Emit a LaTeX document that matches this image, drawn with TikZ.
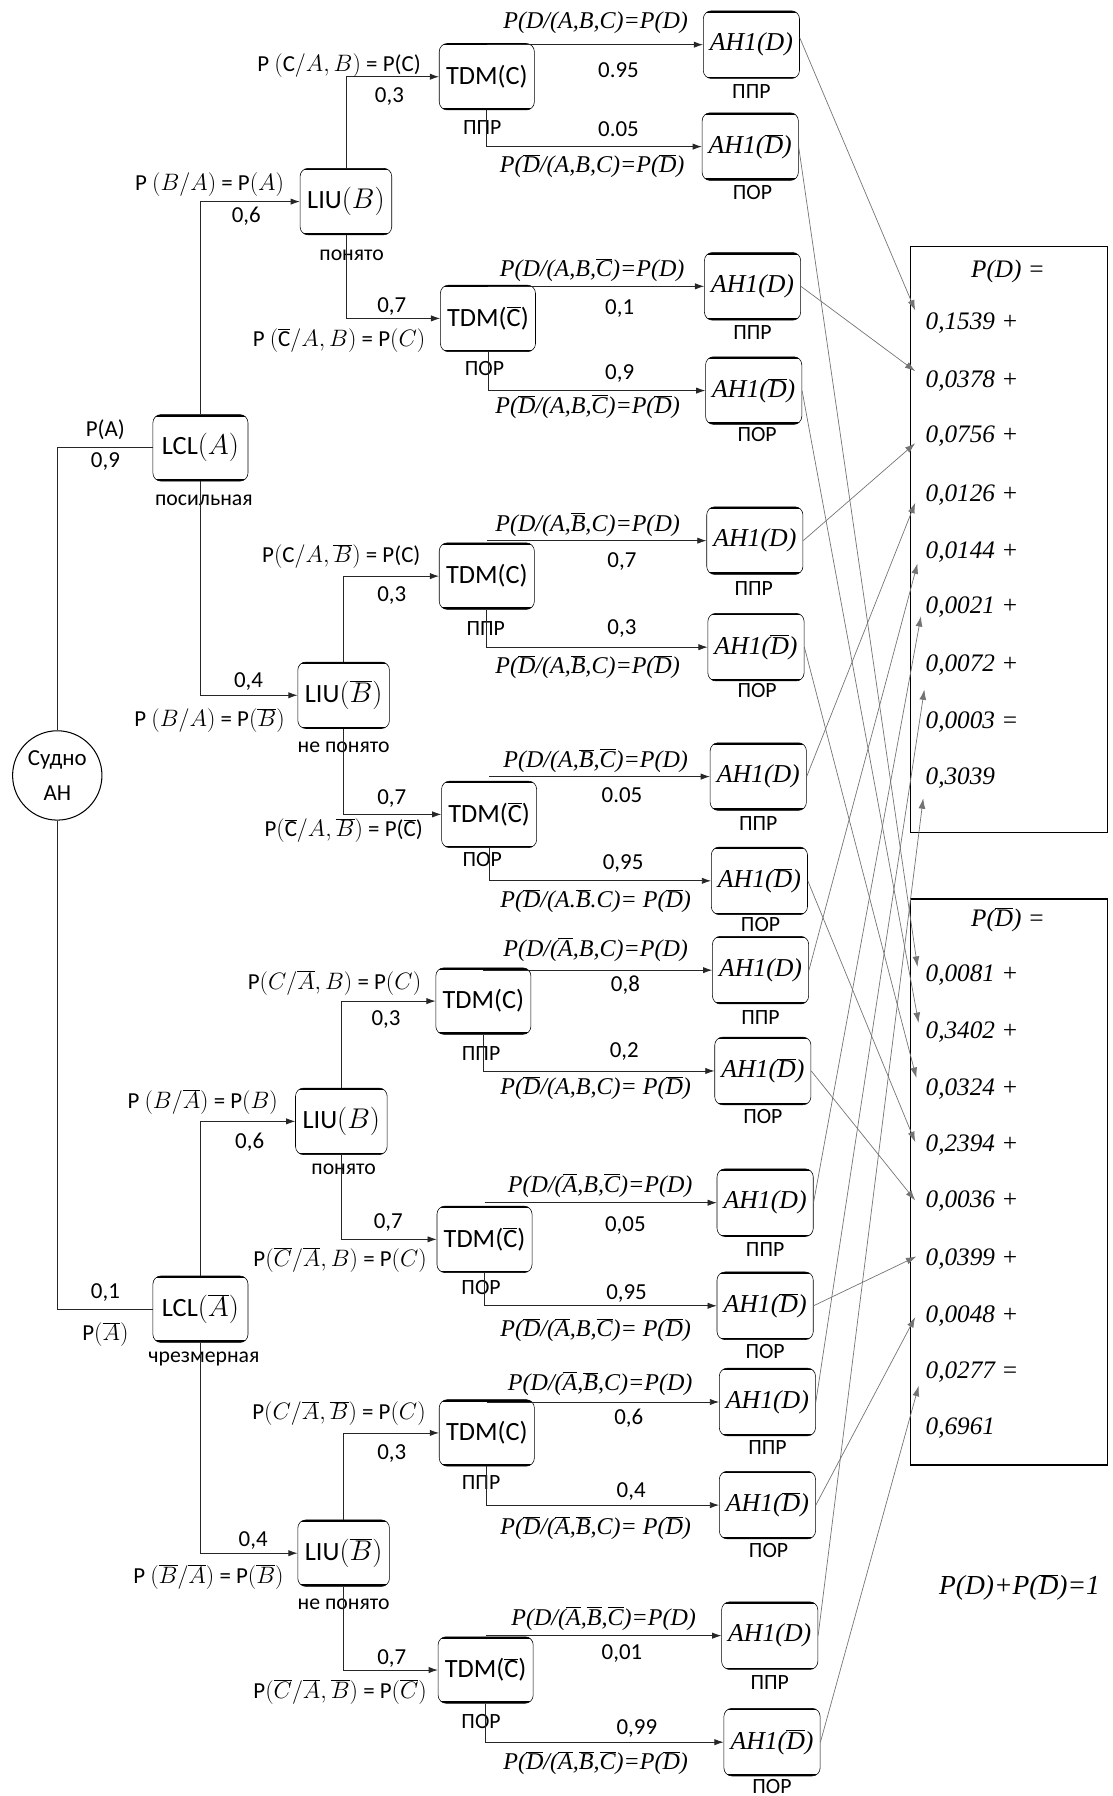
\documentclass[tikz,border=0pt]{standalone}
\usepackage{fontspec}
\setmainfont{Carlito}
\newfontfamily\tms{Liberation Serif}
\usetikzlibrary{arrows.meta}
\newcommand\ob[1]{\ensuremath{\overline{\mbox{#1}}}}
\newcommand\fsz[1]{\fontsize{#1}{#1}\selectfont}
\tikzset{
  bx/.style={draw=black, line width=0.5pt, rounded corners=7pt, minimum width=83pt, minimum height=58pt, inner sep=0pt, font=\fsz{23},
    path picture={\draw[line width=3.4pt] (path picture bounding box.north west) -- (path picture bounding box.north east) (path picture bounding box.south west) -- (path picture bounding box.south east);}},
  lx/.style={bx, minimum width=80pt},
  hx/.style={bx, minimum width=84pt, minimum height=59pt, font=\fsz{22.5}\tms\itshape},
  tl/.style={inner sep=0pt, font=\fsz{20}},
  sl/.style={inner sep=0pt, font=\fsz{19}},
  dl/.style={inner sep=0pt, font=\fsz{21}\tms\itshape},
  vl/.style={inner sep=0pt, anchor=west, font=\fsz{22}\tms\itshape},
  tr/.style={line width=0.7pt, draw=black!85},
  ar/.style={tr, -{Latex[length=8pt,width=5.5pt]}},
  cn/.style={line width=0.6pt, draw=black!55, -{Latex[length=9pt,width=6pt]}},
}
\begin{document}
\begin{tikzpicture}[x=1pt,y=-1pt]
\useasboundingbox (0,0) rectangle (971,1568);
\fill[white] (0,0) rectangle (971,1568);

% ---------- root
\node[draw, circle, line width=0.9pt, minimum size=78pt, inner sep=0pt, align=center, font=\fontsize{20}{30}\selectfont] (root) at (50,677) {Судно\\АН};

% ---------- level 1
\node[bx] (lclA) at (175,391) {LCL$(A)$};
\node[bx] (lclN) at (175,1143) {LCL$(\overline{A})$};
\draw[tr] (root.north) |- (lclA.west);
\draw[tr] (root.south) |- (lclN.west);
\node[tl] at (92,375) {P(A)};
\node[tl] at (92,403) {0,9};
\node[tl] at (92,1128) {0,1};
\node[tl] at (92,1165) {P$(\overline{A})$};
\node[sl] at (178,437) {посильная};
\node[sl] at (178,1186) {чрезмерная};

% ---------- level 2
\node[lx] (b1) at (302,176) {LIU$(B)$};
\node[lx] (b2) at (300,607) {LIU$(\overline{B})$};
\node[lx] (b3) at (298,979) {LIU$(B)$};
\node[lx] (b4) at (300,1356) {LIU$(\overline{B})$};
\draw[ar] (lclA.north) |- (b1.west);
\draw[ar] (lclA.south) |- (b2.west);
\draw[ar] (lclN.north) |- (b3.west);
\draw[ar] (lclN.south) |- (b4.west);
\node[tl] at (183,161) {P $\bigl(B/A\bigr)$ = P$(A)$};
\node[tl] at (215,189) {0,6};
\node[tl] at (217,595) {0,4};
\node[tl] at (183,629) {P $\bigl(B/A\bigr)$ = P$(\overline{B})$};
\node[tl] at (177,962) {P $\Bigl(B/\overline{A}\Bigr)$ = P$(B)$};
\node[tl] at (218,997) {0,6};
\node[tl] at (221,1345) {0,4};
\node[tl] at (182,1377) {P $\Bigl(\overline{B}/\overline{A}\Bigr)$ = P$(\overline{B})$};
\node[sl] at (307,223) {понято};
\node[sl] at (300,652) {не понято};
\node[sl] at (300,1021) {понято};
\node[sl] at (300,1401) {не понято};

% ---------- level 3
\node[bx] (t1) at (425,67) {TDM(C)};
\node[bx] (t2) at (426,278) {TDM(\ob{C})};
\node[bx] (t3) at (425,503) {TDM(C)};
\node[bx] (t4) at (427,711) {TDM(\ob{C})};
\node[bx] (t5) at (422,874) {TDM(C)};
\node[bx] (t6) at (423,1082) {TDM(\ob{C})};
\node[bx] (t7) at (425,1251) {TDM(C)};
\node[bx] (t8) at (424,1458) {TDM(\ob{C})};
\draw[ar] (b1.north) |- (t1.west);
\draw[ar] (b1.south) |- (t2.west);
\draw[ar] (b2.north) |- (t3.west);
\draw[ar] (b2.south) |- (t4.west);
\draw[ar] (b3.north) |- (t5.west);
\draw[ar] (b3.south) |- (t6.west);
\draw[ar] (b4.north) |- (t7.west);
\draw[ar] (b4.south) |- (t8.west);
\node[tl] at (296,57) {P $\Bigl(\mbox{C}/A,B\Bigr)$ = P(C)};
\node[tl] at (340,84) {0,3};
\node[tl] at (342,268) {0,7};
\node[tl] at (296,297) {P $\Bigl(\overline{\mbox{C}}/A,B\Bigr)$ = P$(C)$};
\node[tl] at (298,486) {P$\Bigl(\mbox{C}/A,\overline{B}\Bigr)$ = P(C)};
\node[tl] at (342,520) {0,3};
\node[tl] at (342,697) {0,7};
\node[tl] at (300,725) {P$\Bigl(\overline{\mbox{C}}/A,\overline{B}\Bigr)$ = P(\ob{C})};
\node[tl] at (292,858) {P$\Bigl(C/\overline{A},B\Bigr)$ = P$(C)$};
\node[tl] at (337,890) {0,3};
\node[tl] at (339,1067) {0,7};
\node[tl] at (297,1100) {P$\Bigl(\overline{C}/\overline{A},B\Bigr)$ = P$(C)$};
\node[tl] at (296,1234) {P$\Bigl(C/\overline{A},\overline{B}\Bigr)$ = P$(C)$};
\node[tl] at (342,1269) {0,3};
\node[tl] at (342,1448) {0,7};
\node[tl] at (297,1477) {P$\Bigl(\overline{C}/\overline{A},\overline{B}\Bigr)$ = P$(\overline{C})$};
\node[sl] at (421,111) {ППР};
\node[sl] at (423,322) {ПОР};
\node[sl] at (424,549) {ППР};
\node[sl] at (421,750) {ПОР};
\node[sl] at (420,920) {ППР};
\node[sl] at (420,1124) {ПОР};
\node[sl] at (420,1294) {ППР};
\node[sl] at (420,1503) {ПОР};

% ---------- level 4
\node[hx] (h1) at (656,39) {AH1(D)};
\node[hx] (h2) at (655,128) {AH1(\ob{D})};
\node[hx] (h3) at (657,250) {AH1(D)};
\node[hx] (h4) at (658,341) {AH1(\ob{D})};
\node[hx] (h5) at (659,472) {AH1(D)};
\node[hx] (h6) at (660,565) {AH1(\ob{D})};
\node[hx] (h7) at (662,678) {AH1(D)};
\node[hx] (h8) at (663,769) {AH1(\ob{D})};
\node[hx] (h9) at (664,847) {AH1(D)};
\node[hx] (h10) at (666,935) {AH1(\ob{D})};
\node[hx] (h11) at (668,1050) {AH1(D)};
\node[hx] (h12) at (668,1140) {AH1(\ob{D})};
\node[hx] (h13) at (670,1224) {AH1(D)};
\node[hx] (h14) at (670,1314) {AH1(\ob{D})};
\node[hx] (h15) at (672,1428) {AH1(D)};
\node[hx] (h16) at (674,1521) {AH1(\ob{D})};

\draw[ar] (t1.north |- h1.west) -- (h1.west);
\draw[ar] (t1.south) |- (h2.west);
\draw[ar] (t2.north |- h3.west) -- (h3.west);
\draw[ar] (t2.south) |- (h4.west);
\draw[ar] (t3.north |- h5.west) -- (h5.west);
\draw[ar] (t3.south) |- (h6.west);
\draw[ar] (t4.north |- h7.west) -- (h7.west);
\draw[ar] (t4.south) |- (h8.west);
\draw[ar] (t5.north |- h9.west) -- (h9.west);
\draw[ar] (t5.south) |- (h10.west);
\draw[ar] (t6.north |- h11.west) -- (h11.west);
\draw[ar] (t6.south) |- (h12.west);
\draw[ar] (t7.north |- h13.west) -- (h13.west);
\draw[ar] (t7.south) |- (h14.west);
\draw[ar] (t8.north |- h15.west) -- (h15.west);
\draw[ar] (t8.south) |- (h16.west);

\node[dl] at (520,20) {P(D/(A,B,C)=P(D)};
\node[tl] at (540,61) {0.95};
\node[tl] at (540,113) {0.05};
\node[dl] at (517,145) {P(\ob{D}/(A,B,C)=P(\ob{D})};
\node[dl] at (517,236) {P(D/(A,B,\ob{C})=P(D)};
\node[tl] at (541,269) {0,1};
\node[tl] at (541,326) {0,9};
\node[dl] at (513,355) {P(\ob{D}/(A,B,\ob{C})=P(\ob{D})};
\node[dl] at (513,458) {P(D/(A,\ob{B},C)=P(D)};
\node[tl] at (543,490) {0,7};
\node[tl] at (543,549) {0,3};
\node[dl] at (513,582) {P(\ob{D}/(A,\ob{B},C)=P(\ob{D})};
\node[dl] at (520,664) {P(D/(A,\ob{B},\ob{C})=P(D)};
\node[tl] at (543,694) {0.05};
\node[tl] at (544,754) {0,95};
\node[dl] at (520,787) {P(\ob{D}/(A.\ob{B}.C)= P(\ob{D})};
\node[dl] at (520,829) {P(D/(\ob{A},B,C)=P(D)};
\node[tl] at (546,860) {0,8};
\node[tl] at (545,918) {0,2};
\node[dl] at (520,950) {P(\ob{D}/(A,B,C)= P(\ob{D})};
\node[dl] at (524,1035) {P(D/(\ob{A},B,\ob{C})=P(D)};
\node[tl] at (546,1070) {0,05};
\node[tl] at (547,1129) {0,95};
\node[dl] at (520,1161) {P(\ob{D}/(\ob{A},B,\ob{C})= P(\ob{D})};
\node[dl] at (524,1208) {P(D/(\ob{A},\ob{B},C)=P(D)};
\node[tl] at (549,1238) {0,6};
\node[tl] at (551,1302) {0,4};
\node[dl] at (520,1334) {P(\ob{D}/(\ob{A},\ob{B},C)= P(\ob{D})};
\node[dl] at (527,1413) {P(D/(\ob{A},\ob{B},\ob{C})=P(D)};
\node[tl] at (543,1444) {0,01};
\node[tl] at (556,1509) {0,99};
\node[dl] at (520,1539) {P(\ob{D}/(\ob{A},\ob{B},\ob{C})=P(\ob{D})};

\node[sl] at (656,80) {ППР};
\node[sl] at (657,168) {ПОР};
\node[sl] at (657,290) {ППР};
\node[sl] at (661,379) {ПОР};
\node[sl] at (658,514) {ППР};
\node[sl] at (661,603) {ПОР};
\node[sl] at (662,719) {ППР};
\node[sl] at (664,807) {ПОР};
\node[sl] at (664,888) {ППР};
\node[sl] at (666,975) {ПОР};
\node[sl] at (668,1091) {ППР};
\node[sl] at (668,1180) {ПОР};
\node[sl] at (670,1264) {ППР};
\node[sl] at (671,1354) {ПОР};
\node[sl] at (672,1469) {ППР};
\node[sl] at (674,1560) {ПОР};

% ---------- result boxes
\node[draw, line width=1.2pt, minimum width=172pt, minimum height=512pt, inner sep=0pt] (pd) at (881,471) {};
\node[draw, line width=1.2pt, minimum width=172pt, minimum height=494pt, inner sep=0pt] (pnd) at (881,1032) {};
\node[inner sep=0pt, font=\fsz{22}\tms\itshape] at (880,237) {P(D) =};
\node[inner sep=0pt, font=\fsz{22}\tms\itshape] at (880,803) {P(\ob{D}) =};
\node[vl] at (808,282) {0,1539 +};
\node[vl] at (808,333) {0,0378 +};
\node[vl] at (808,381) {0,0756 +};
\node[vl] at (808,432) {0,0126 +};
\node[vl] at (808,482) {0,0144 +};
\node[vl] at (808,530) {0,0021 +};
\node[vl] at (808,581) {0,0072 +};
\node[vl] at (808,630) {0,0003 =};
\node[vl] at (808,679) {0,3039};
\node[vl] at (808,851) {0,0081 +};
\node[vl] at (808,901) {0,3402 +};
\node[vl] at (808,951) {0,0324 +};
\node[vl] at (808,1000) {0,2394 +};
\node[vl] at (808,1049) {0,0036 +};
\node[vl] at (808,1099) {0,0399 +};
\node[vl] at (808,1149) {0,0048 +};
\node[vl] at (808,1198) {0,0277 =};
\node[vl] at (808,1247) {0,6961};
\node[inner sep=0pt, font=\fsz{24}\tms\itshape] at (890,1386) {P(D)+P(\ob{D})=1};

% ---------- connectors
\coordinate (d1) at (799,271);
\coordinate (d2) at (799,324);
\coordinate (d3) at (799,387);
\coordinate (d4) at (799,439);
\coordinate (d5) at (801,492);
\coordinate (d6) at (804,538);
\coordinate (d7) at (807,602);
\coordinate (d8) at (806,697);
\coordinate (n1) at (801,844);
\coordinate (n2) at (802,893);
\coordinate (n3) at (800,941);
\coordinate (n4) at (799,997);
\coordinate (n5) at (799,1048);
\coordinate (n6) at (800,1097);
\coordinate (n7) at (799,1150);
\coordinate (n8) at (802,1210);
\draw[cn] ([yshift=6pt]h1.east) -- (d1);
\draw[cn] (h3.east) -- (d2);
\draw[cn] (h5.east) -- (d3);
\draw[cn] (h7.east) -- (d4);
\draw[cn] (h9.east) -- (d5);
\draw[cn] (h11.east) -- (d6);
\draw[cn] (h13.east) -- (d7);
\draw[cn] (h15.east) -- (d8);
\draw[cn] (h2.east) -- (n1);
\draw[cn] (h4.east) -- (n2);
\draw[cn] (h6.east) -- (n3);
\draw[cn] (h8.east) -- (n4);
\draw[cn] (h10.east) -- (n5);
\draw[cn] (h12.east) -- (n6);
\draw[cn] (h14.east) -- (n7);
\draw[cn] (h16.east) -- (n8);
\end{tikzpicture}
\end{document}
